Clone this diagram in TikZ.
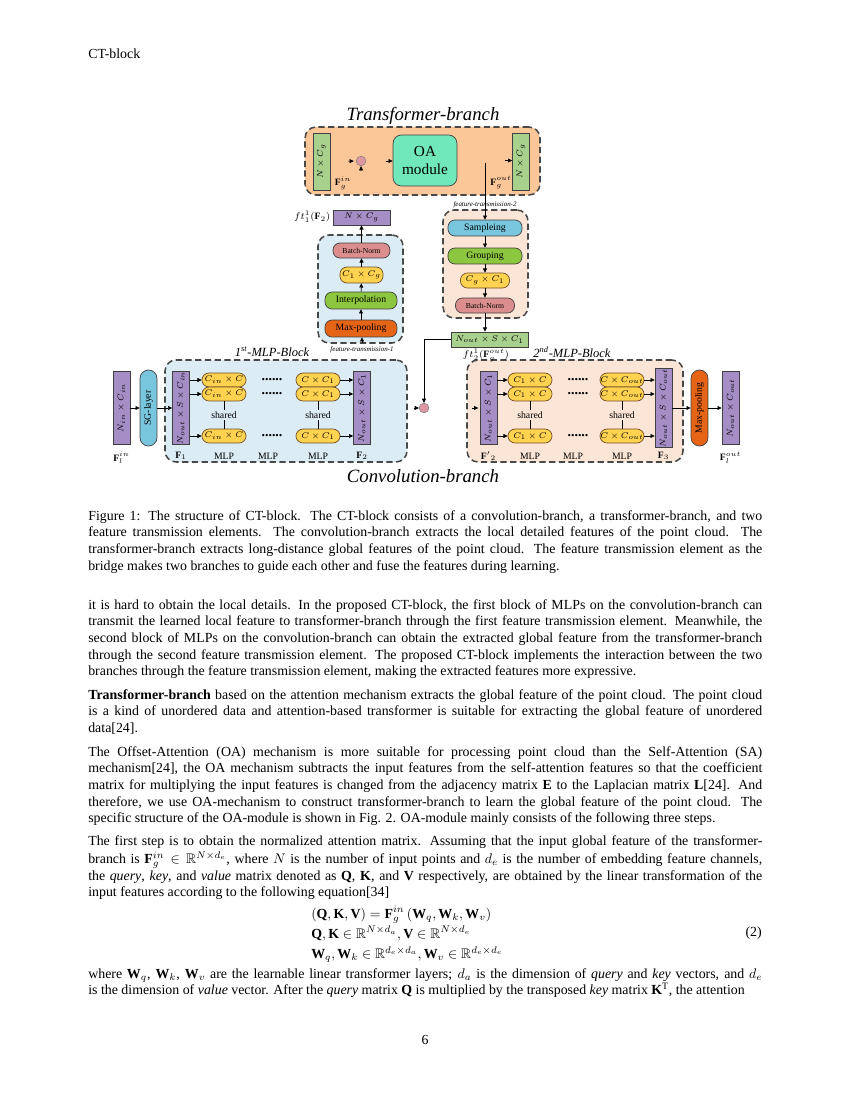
\documentclass[tikz,border=0pt]{standalone}
\usepackage{amsmath}
\usepackage{amssymb}
\usepackage{graphicx}
\usepackage{fontspec}
\setmainfont{Liberation Serif}
\usetikzlibrary{arrows.meta, positioning, fit}

\definecolor{trpeach}{RGB}{251,198,152}
\definecolor{ltpeach}{RGB}{251,229,214}
\definecolor{ltblue}{RGB}{219,236,244}
\definecolor{matgreen}{RGB}{169,209,142}
\definecolor{oamint}{RGB}{112,232,186}
\definecolor{tenpurple}{RGB}{165,142,198}
\definecolor{pilyellow}{RGB}{255,210,79}
\definecolor{bnpink}{RGB}{220,142,142}
\definecolor{mpred}{RGB}{230,100,22}
\definecolor{ipgreen}{RGB}{141,198,63}
\definecolor{sgblue}{RGB}{120,198,222}
\definecolor{addpink}{RGB}{222,150,160}
\definecolor{boxgray}{RGB}{72,72,72}

\newcommand{\fsz}[1]{\fontsize{#1}{#1}\selectfont}
\newcommand{\vtxt}[1]{\rotatebox{90}{#1}}

\begin{document}
\begin{tikzpicture}[
  x=0.72pt, y=-0.72pt,
  arrow/.style={-{Triangle[length=3pt,width=2.8pt]}, line width=0.45pt, black},
  dbox/.style={draw=boxgray, line width=1.1pt, dash pattern=on 4.5pt off 2.5pt,
               rounded corners=8pt, inner sep=0pt},
  tens/.style={draw=black!75, line width=0.5pt, inner sep=0pt, font=\fsz{6}},
  vbar/.style={minimum width=12.2pt, minimum height=52.6pt},
  purp/.style={tens, fill=tenpurple},
  mat/.style={tens, fill=matgreen},
  op/.style={draw=black!75, line width=0.5pt, rounded corners=5pt, inner sep=0pt,
             font=\fsz{6.5}},
  mlpc/.style={op, fill=pilyellow, draw=brown!60!black, minimum width=31.7pt,
               minimum height=10pt, font=\fsz{5.6}},
  addc/.style={circle, draw=black!50, fill=addpink, minimum size=7pt, inner sep=0pt},
  lbl/.style={font=\fsz{7}, inner sep=1pt},
  ftlbl/.style={font=\fsz{5}\itshape, inner sep=0.5pt},
  ttl/.style={font=\fsz{13.5}\itshape, inner sep=0pt},
  blkttl/.style={font=\fsz{9}\itshape, inner sep=0pt},
  dots/.style={font=\fsz{10}\bfseries, inner sep=0pt},
  para/.style={anchor=north west, text width=485.3pt, align=justify, inner sep=0pt,
               font=\fontsize{10}{12}\selectfont},
]
  \fill[white] (0,0) rectangle (850,1100);
  \useasboundingbox (0,0) rectangle (850,1100);

  \node[anchor=base west, inner sep=0pt, font=\fontsize{10}{12}\selectfont] (hdr) at (88,59) {CT-block};

  % dashed boxes
  \node[dbox, fill=trpeach, fit={(305,127) (540,195)}] (tbox) {};
  \node[dbox, fill=ltblue, fit={(318,235) (403,343)}] (ft1box) {};
  \node[dbox, fill=ltpeach, fit={(443,210) (528,318)}] (ft2box) {};
  \node[dbox, fill=ltblue, fit={(165,360) (407,462)}] (mlp1) {};
  \node[dbox, fill=ltpeach, fit={(467,360) (683,462)}] (mlp2) {};

  % transformer-branch
  \node[ttl] (ttitle) at (423,116) {Transformer-branch};
  \node[mat, minimum width=12.2pt, minimum height=41pt] (gin) at (321.5,161.5) {\vtxt{$N\times C_g$}};
  \node[mat, minimum width=12.2pt, minimum height=41pt] (gout) at (521,161.5) {\vtxt{$N\times C_g$}};
  \node[lbl] (lgin) at (343,183) {$\mathbf{F}_g^{in}$};
  \node[lbl] (lgout) at (501,183) {$\mathbf{F}_g^{out}$};
  \node[addc] (c1) at (361,161) {};
  \node[op, fill=oamint, rounded corners=6pt, minimum width=46pt, minimum height=36.7pt,
        align=center, font=\fontsize{11}{13}\selectfont] (oa) at (425,160.5) {OA\\module};
  \coordinate (ft2s) at (485,163);

  % feature-transmission-2
  \node[ftlbl] (lft2) at (485,205) {feature-transmission-2};
  \node[op, fill=sgblue, minimum width=53.3pt, minimum height=11.5pt, font=\fsz{7}] (samp) at (485,228) {Sampleing};
  \node[op, fill=ipgreen, minimum width=53.3pt, minimum height=11.5pt, font=\fsz{7}] (grp) at (485,256) {Grouping};
  \node[mlpc, minimum width=35.3pt, minimum height=10.8pt, font=\fsz{6}] (cgc1) at (485,280.5) {$C_g\times C_1$};
  \node[op, fill=bnpink, minimum width=42.5pt, minimum height=10.8pt, font=\fsz{5.5}] (bn2) at (485,305.5) {Batch-Norm};
  \node[mat, minimum width=55.4pt, minimum height=10.8pt] (nsc) at (489.5,339.5) {$N_{out}\times S\times C_1$};
  \node[lbl] (lnsc) at (486,355) {$ft_2^1(\mathbf{F}_g^{out})$};

  % feature-transmission-1
  \node[purp, minimum width=41pt, minimum height=10.8pt] (ncg) at (361.5,217.5) {$N\times C_g$};
  \node[lbl, anchor=east] (lncg) at (332,217) {$ft_1^1(\mathbf{F}_2)$};
  \node[op, fill=bnpink, minimum width=41pt, minimum height=10.8pt, font=\fsz{5.5}] (bn1) at (361.5,250.5) {Batch-Norm};
  \node[mlpc, minimum width=31pt, minimum height=11.5pt, font=\fsz{6}] (c1cg) at (361.5,275) {$C_1\times C_g$};
  \node[op, fill=ipgreen, minimum width=51.8pt, minimum height=12.2pt, font=\fsz{7}] (interp) at (361,300.5) {Interpolation};
  \node[op, fill=mpred, minimum width=51.8pt, minimum height=12.2pt, font=\fsz{7}] (mp1) at (361,328.5) {Max-pooling};
  \node[ftlbl] (lft1) at (362,350) {feature-transmission-1};

  % convolution-branch
  \node[purp, vbar] (flin) at (121.5,408) {\vtxt{$N_{in}\times C_{in}$}};
  \node[lbl] (lflin) at (121.5,458) {$\mathbf{F}_l^{in}$};
  \node[op, fill=sgblue, rounded corners=6pt, minimum width=12.2pt, minimum height=54.7pt, font=\fsz{7}] (sg) at (148.5,408) {\vtxt{SG-layer}};

  \node[blkttl] (t1) at (272,352) {1\textsuperscript{st}-MLP-Block};
  \node[purp, vbar] (f1) at (181,408) {\vtxt{$N_{out}\times S\times C_{in}$}};
  \node[purp, vbar] (f2) at (362,408) {\vtxt{$N_{out}\times S\times C_1$}};
  \node[lbl] (lf1) at (181,456) {$\mathbf{F}_1$};
  \node[lbl] (lf2) at (362,456) {$\mathbf{F}_2$};

  \node[blkttl] (t2) at (572,352) {2\textsuperscript{nd}-MLP-Block};
  \node[purp, vbar] (f2p) at (488.5,408) {\vtxt{$N_{out}\times S\times C_1$}};
  \node[purp, vbar] (f3) at (663.5,408) {\vtxt{$N_{out}\times S\times C_{out}$}};
  \node[lbl] (lf2p) at (488.5,456) {$\mathbf{F'}_2$};
  \node[lbl] (lf3) at (663.5,456) {$\mathbf{F}_3$};

  \foreach \r/\y in {a/380,b/394,c/436}{
    \node[mlpc] (p1\r) at (224,\y) {$C_{in}\times C$};
    \node[dots] at (272,\y) {......};
    \node[mlpc] (q1\r) at (318,\y) {$C\times C_1$};
    \node[mlpc] (p2\r) at (530,\y) {$C_1\times C$};
    \node[dots] at (578,\y) {......};
    \node[mlpc] (q2\r) at (622,\y) {$C\times C_{out}$};
    \draw[arrow] (f1.east |- p1\r.west) -- (p1\r.west);
    \draw[arrow] (q1\r.east) -- (f2.west |- q1\r.east);
    \draw[arrow] (f2p.east |- p2\r.west) -- (p2\r.west);
    \draw[arrow] (q2\r.east) -- (f3.west |- q2\r.east);
  }
  \foreach \c/\x/\f in {p1/224/ltblue, q1/318/ltblue, p2/530/ltpeach, q2/622/ltpeach}{
    \draw[line width=0.5pt] (\c b.south) -- (\c c.north);
    \node[lbl, fill=\f] at (\x,415) {shared};
  }
  \foreach \x in {224,268,318,530,573,622}
    \node[lbl] at (\x,456) {MLP};

  \node[op, fill=mpred, rounded corners=6pt, minimum width=12.2pt, minimum height=54.7pt, font=\fsz{7}] (mpv) at (699.5,408) {\vtxt{Max-pooling}};
  \node[purp, vbar] (flout) at (730.5,408) {\vtxt{$N_{out}\times C_{out}$}};
  \node[lbl] (lflout) at (730.5,458) {$\mathbf{F}_l^{out}$};
  \node[addc] (c2) at (424,408) {};
  \node[ttl] (ctitle) at (423,476) {Convolution-branch};

  % connectors
  \draw[arrow, shorten <=13pt, shorten >=1.5pt] (gin.east) -- (c1.west);
  \draw[arrow, shorten <=28pt] (ncg.north) -- (c1.south);
  \draw[arrow, shorten <=14pt] (c1.east) -- (c1 -| oa.west);
  \draw[arrow, shorten <=34pt] (oa.east) -- (oa.east -| gout.west);
  \draw[arrow] (ft2s) -- (samp.north);
  \draw[arrow] (samp) -- (grp);
  \draw[arrow] (grp) -- (cgc1);
  \draw[arrow] (cgc1) -- (bn2);
  \draw[arrow] (bn2.south) -- (bn2.south |- nsc.north);
  \draw[arrow] (nsc.west) -| (c2.north);
  \draw[arrow] (mp1) -- (interp);
  \draw[arrow] (interp) -- (c1cg);
  \draw[arrow] (c1cg) -- (bn1);
  \draw[arrow] (bn1) -- (ncg);
  \draw[arrow, shorten <=20pt] (f2.north) -- (f2.north |- mp1.south);
  \draw[arrow, shorten <=31pt] (f2.east) -- (c2.west);
  \draw[arrow, shorten <=31pt, shorten >=1pt] (c2.east) -- (f2p.west);
  \draw[arrow] (flin) -- (sg);
  \draw[arrow] (sg) -- (f1);
  \draw[arrow] (f3) -- (mpv);
  \draw[arrow] (mpv) -- (flout);

  % caption and body text
  \node[para] (cap) at (88,508.3) {\strut Figure 1: The structure of CT-block. The CT-block consists of a convolution-branch, a transformer-branch, and two\linebreak
  feature transmission elements. The convolution-branch extracts the local detailed features of the point cloud. The\linebreak
  transformer-branch extracts long-distance global features of the point cloud. The feature transmission element as the\linebreak
  bridge makes two branches to guide each other and fuse the features during learning.};

  \node[para] (par1) at (88,597.3) {\strut it is hard to obtain the local details. In the proposed CT-block, the first block of MLPs on the convolution-branch can\linebreak
  transmit the learned local feature to transformer-branch through the first feature transmission element. Meanwhile, the\linebreak
  second block of MLPs on the convolution-branch can obtain the extracted global feature from the transformer-branch\linebreak
  through the second feature transmission element. The proposed CT-block implements the interaction between the two\linebreak
  branches through the feature transmission element, making the extracted features more expressive.};

  \node[para] (par2) at (88,687.3) {\strut\textbf{Transformer-branch} based on the attention mechanism extracts the global feature of the point cloud. The point cloud\linebreak
  is a kind of unordered data and attention-based transformer is suitable for extracting the global feature of unordered\linebreak
  data[24].};

  \node[para] (par3) at (88,744.3) {\strut The Offset-Attention (OA) mechanism is more suitable for processing point cloud than the Self-Attention (SA)\linebreak
  mechanism[24], the OA mechanism subtracts the input features from the self-attention features so that the coefficient\linebreak
  matrix for multiplying the input features is changed from the adjacency matrix $\mathbf{E}$ to the Laplacian matrix $\mathbf{L}$[24]. And\linebreak
  therefore, we use OA-mechanism to construct transformer-branch to learn the global feature of the point cloud. The\linebreak
  specific structure of the OA-module is shown in Fig. 2. OA-module mainly consists of the following three steps.};

  \node[para] (par4) at (88,833.3) {\strut The first step is to obtain the normalized attention matrix. Assuming that the input global feature of the transformer-\linebreak
  branch is $\mathbf{F}_g^{in}\in\mathbb{R}^{N\times d_e}$, where $N$ is the number of input points and $d_e$ is the number of embedding feature channels,\linebreak
  the \textit{query}, \textit{key}, and \textit{value} matrix denoted as $\mathbf{Q}$, $\mathbf{K}$, and $\mathbf{V}$ respectively, are obtained by the linear transformation of the\linebreak
  input features according to the following equation[34]};

  \node[anchor=base west, inner sep=0pt, font=\fontsize{10}{12}\selectfont] (eq) at (311,918)
    {\setlength{\jot}{1pt}$\begin{aligned}[t]
      &(\mathbf{Q},\mathbf{K},\mathbf{V})=\mathbf{F}_g^{in}\left(\mathbf{W}_q,\mathbf{W}_k,\mathbf{W}_v\right)\\
      &\mathbf{Q},\mathbf{K}\in\mathbb{R}^{N\times d_a},\mathbf{V}\in\mathbb{R}^{N\times d_e}\\
      &\mathbf{W}_q,\mathbf{W}_k\in\mathbb{R}^{d_e\times d_a},\mathbf{W}_v\in\mathbb{R}^{d_e\times d_e}
    \end{aligned}$};
  \node[anchor=base east, inner sep=0pt, font=\fontsize{10}{12}\selectfont] (eqno) at (762,936) {(2)};

  \node[para] (par5) at (88,966.3) {\parfillskip=0pt \strut where $\mathbf{W}_q$, $\mathbf{W}_k$, $\mathbf{W}_v$ are the learnable linear transformer layers; $d_a$ is the dimension of \textit{query} and \textit{key} vectors, and $d_e$\linebreak
  is the dimension of \textit{value} vector. After the \textit{query} matrix $\mathbf{Q}$ is multiplied by the transposed \textit{key} matrix $\mathbf{K}^{\mathrm{T}}$, the attention};

  \node[anchor=base, inner sep=0pt, font=\fontsize{10}{12}\selectfont] (pgno) at (425,1044) {6};
\end{tikzpicture}
\end{document}
